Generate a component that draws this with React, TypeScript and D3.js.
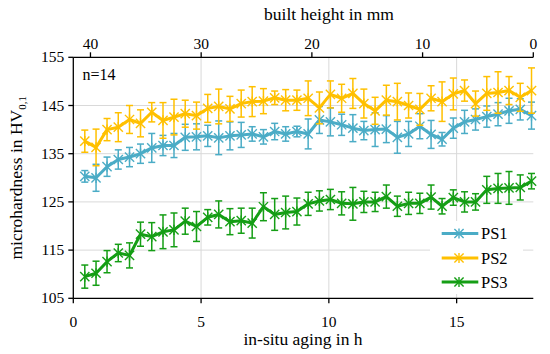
import React from "react";
import * as d3 from "d3";

const hours = [0.45, 0.89, 1.32, 1.76, 2.2, 2.63, 3.07, 3.51, 3.94, 4.38, 4.82, 5.26, 5.69, 6.13, 6.57, 7.0, 7.44, 7.88, 8.31, 8.75, 9.19, 9.63, 10.06, 10.5, 10.94, 11.37, 11.81, 12.25, 12.68, 13.12, 13.56, 14.0, 14.43, 14.87, 15.31, 15.74, 16.18, 16.62, 17.05, 17.49, 17.93];

const ps1 = [130.3, 130.0, 132.3, 133.8, 134.3, 135.0, 136.2, 136.7, 136.7, 138.4, 138.5, 138.7, 138.3, 138.7, 138.9, 139.1, 138.5, 139.6, 139.1, 139.6, 139.1, 142.0, 141.6, 141.0, 140.3, 139.8, 140.0, 140.1, 138.4, 139.1, 140.7, 139.0, 138.0, 140.3, 141.6, 142.1, 142.7, 143.2, 143.9, 144.2, 142.9];
const ps1Err = [1.2, 2.8, 2, 2, 2, 2, 3, 2.1, 2.5, 2.7, 2.7, 2.2, 3.5, 2.9, 2.6, 1.5, 1.5, 1.7, 1.5, 1.1, 3.1, 2.8, 2.9, 2.2, 2.8, 1.9, 3.5, 2.8, 3.3, 2.6, 2.6, 2.9, 1.4, 2.1, 2.4, 2.2, 2.2, 2.4, 2.6, 2.2, 2.8];

const ps2 = [137.6, 136.3, 140.0, 140.5, 142.1, 141.3, 143.6, 141.9, 142.6, 143.3, 142.9, 144.4, 144.8, 144.3, 145.4, 145.8, 145.9, 146.6, 146.1, 146.1, 146.5, 144.5, 147.3, 146.5, 147.5, 145.4, 143.9, 146.1, 145.8, 145.0, 144.2, 146.5, 145.8, 147.4, 148.1, 145.4, 147.5, 147.7, 148.1, 146.7, 148.1];
const ps2Err = [2.3, 3.8, 2.3, 3, 2.9, 2.8, 2, 3.7, 3.7, 2.8, 2.8, 2.9, 3.6, 2.6, 2.8, 3.1, 2.6, 1.4, 2.2, 2.1, 3.6, 3.3, 2.8, 2.9, 3.1, 3, 2.8, 3.1, 3.8, 2.6, 3.3, 2.6, 4.1, 3.3, 2.2, 2.6, 3.5, 4.3, 2.9, 2.9, 4.7];

const ps3 = [109.5, 110.2, 112.6, 114.4, 113.9, 118.3, 117.8, 118.8, 119.2, 121.0, 119.9, 121.8, 122.4, 120.9, 121.1, 120.6, 124.0, 122.4, 122.8, 123.0, 124.6, 125.2, 125.5, 124.7, 124.6, 125.0, 125.0, 126.1, 124.1, 124.7, 124.7, 126.0, 124.1, 125.9, 125.0, 125.0, 127.5, 127.8, 127.9, 128.0, 129.3];
const ps3Err = [2.4, 2.5, 2.3, 1.8, 2.6, 2.5, 2.9, 3.5, 3.5, 2.7, 3.1, 1.6, 2.8, 2.7, 2.6, 3.1, 2.9, 3.3, 3.4, 2.8, 2.4, 2.1, 2.1, 2.4, 3.4, 2.2, 2.0, 2.4, 2.1, 2.3, 2.1, 2.5, 1.6, 1.6, 2.1, 1.7, 2.8, 3.1, 3.4, 2.6, 1.6];

const seriesNames = ["PS1", "PS2", "PS3"];
const seriesColors = ["#4bacc6", "#ffc000", "#159e15"];
const yTicks = [105, 115, 125, 135, 145, 155];
const xTicks = [0, 5, 10, 15];
const topTicks = [40, 30, 20, 10, 0];

const FONT = "Liberation Serif";

export default function App() {
  const L = 73.3, R = 533.3, T = 57.3, B = 298.3;
  const x = d3.scaleLinear().domain([0, 18]).range([L, R]);
  const xTop = d3.scaleLinear().domain([41.55, 0]).range([L, R]);
  const y = d3.scaleLinear().domain([105, 155]).range([B, T]);

  const series = [
    { name: seriesNames[0], vals: ps1, err: ps1Err, color: seriesColors[0] },
    { name: seriesNames[1], vals: ps2, err: ps2Err, color: seriesColors[1] },
    { name: seriesNames[2], vals: ps3, err: ps3Err, color: seriesColors[2] },
  ];

  const line = d3
    .line<number>()
    .x((_, i) => x(hours[i]))
    .y((d) => y(d));

  const marker = (cx: number, cy: number, color: string, key: string) => {
    const s = 4.6;
    return (
      <g key={key} stroke={color} strokeWidth={1.4}>
        <line x1={cx - s} y1={cy - s} x2={cx + s} y2={cy + s} />
        <line x1={cx - s} y1={cy + s} x2={cx + s} y2={cy - s} />
        <line x1={cx} y1={cy - s - 0.5} x2={cx} y2={cy + s + 0.5} />
      </g>
    );
  };

  const legendY = [233.5, 258, 282];
  const ts: React.CSSProperties = { fontFamily: FONT };

  return (
    <svg width={550} height={354} style={{ position: "absolute", left: 0, top: 0, background: "#fff" }}>
      <rect x={0} y={0} width={550} height={354} fill="#fff" />
      {/* grid */}
      {[115, 125, 135, 145].map((v) => (
        <line key={"gy" + v} x1={L} x2={R} y1={y(v)} y2={y(v)} stroke="#d9d9d9" strokeWidth={1} />
      ))}
      {[5, 10, 15].map((v) => (
        <line key={"gx" + v} x1={x(v)} x2={x(v)} y1={T} y2={B} stroke="#d9d9d9" strokeWidth={1} />
      ))}

      {/* series */}
      {series.map((s) => (
        <g key={s.name}>
          {s.vals.map((v, i) => {
            const cx = x(hours[i]);
            const y1 = y(v + s.err[i]);
            const y2 = y(v - s.err[i]);
            return (
              <g key={i} stroke={s.color} strokeWidth={1.5}>
                <line x1={cx} x2={cx} y1={y1} y2={y2} />
                <line x1={cx - 3.5} x2={cx + 3.5} y1={y1} y2={y1} />
                <line x1={cx - 3.5} x2={cx + 3.5} y1={y2} y2={y2} />
              </g>
            );
          })}
          <path d={line(s.vals) || ""} fill="none" stroke={s.color} strokeWidth={3} strokeLinejoin="round" />
          {s.vals.map((v, i) => marker(x(hours[i]), y(v), s.color, s.name + "m" + i))}
        </g>
      ))}

      {/* legend */}
      <rect x={430} y={221} width={93} height={73} fill="#fff" />
      {series.map((s, k) => (
        <g key={"lg" + k}>
          <line x1={441.7} x2={478.3} y1={legendY[k]} y2={legendY[k]} stroke={s.color} strokeWidth={3} />
          {marker(459, legendY[k], s.color, "lm" + k)}
          <text x={481} y={legendY[k] + 5.5} fontSize={16.5} fill="#000" style={ts}>{s.name}</text>
        </g>
      ))}

      {/* axes */}
      <line x1={L} x2={L} y1={T} y2={B} stroke="#000" strokeWidth={1.3} />
      <line x1={L} x2={R} y1={B} y2={B} stroke="#000" strokeWidth={1.3} />
      <line x1={L} x2={R} y1={T} y2={T} stroke="#000" strokeWidth={1.3} />
      {yTicks.map((v) => (
        <g key={"yt" + v}>
          <line x1={L - 5} x2={L} y1={y(v)} y2={y(v)} stroke="#000" strokeWidth={1.3} />
          <text x={L - 9} y={y(v) + 5} textAnchor="end" fontSize={15.5} fill="#000" style={ts}>{v}</text>
        </g>
      ))}
      {xTicks.map((v) => (
        <g key={"xt" + v}>
          <line x1={x(v)} x2={x(v)} y1={B} y2={B + 5} stroke="#000" strokeWidth={1.3} />
          <text x={x(v)} y={B + 29} textAnchor="middle" fontSize={15.5} fill="#000" style={ts}>{v}</text>
        </g>
      ))}
      {topTicks.map((v) => (
        <g key={"tt" + v}>
          <line x1={xTop(v)} x2={xTop(v)} y1={T - 5} y2={T} stroke="#000" strokeWidth={1.3} />
          <text x={xTop(v)} y={T - 8} textAnchor="middle" fontSize={15.5} fill="#000" style={ts}>{v}</text>
        </g>
      ))}

      {/* titles */}
      <text x={329} y={20} textAnchor="middle" fontSize={17.5} fill="#000" style={ts}>built height in mm</text>
      <text x={303} y={345} textAnchor="middle" fontSize={17.5} fill="#000" style={ts}>in-situ aging in h</text>
      <text transform={`translate(22,${(T + B) / 2}) rotate(-90)`} textAnchor="middle" fontSize={17.5} fill="#000" style={ts}>
        microhardness in HV<tspan fontSize={11} dy={4}>0,1</tspan>
      </text>
      <text x={82.5} y={80} fontSize={16} fill="#000" style={ts}>n=14</text>
    </svg>
  );
}
